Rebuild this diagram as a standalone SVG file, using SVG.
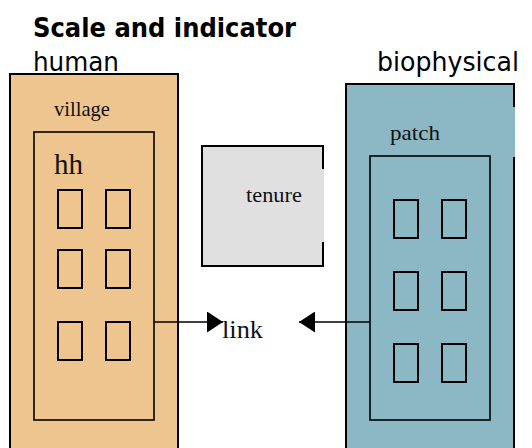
<svg xmlns="http://www.w3.org/2000/svg" width="532" height="448" viewBox="0 0 532 448">
<defs>
<style>
.t{font-family:"Liberation Serif","Times New Roman",serif;fill:#111}
.s{font-family:"DejaVu Sans","Noto Sans",sans-serif;fill:#000}
.box{stroke:#000;stroke-width:2}
.in{fill:none;stroke:#000;stroke-width:1.6}
.cell{fill:none;stroke:#000;stroke-width:2}
.ln{stroke:#000;stroke-width:1.6;fill:none}
</style>
<marker id="ah" viewBox="0 0 16 21" refX="16" refY="10.5" markerWidth="16" markerHeight="21" markerUnits="userSpaceOnUse" orient="auto">
<path d="M0,0 L16,10.5 L0,21 Z" fill="#000"/>
</marker>
</defs>
<rect width="532" height="448" fill="#fff"/>
<text class="s" x="33" y="37" font-size="26" font-weight="bold" textLength="263" lengthAdjust="spacingAndGlyphs">Scale and indicator</text>
<text class="s" x="33" y="71" font-size="27" textLength="86" lengthAdjust="spacingAndGlyphs">human</text>
<text class="s" x="377" y="71" font-size="27" textLength="142" lengthAdjust="spacingAndGlyphs">biophysical</text>
<g id="village">
<rect class="box" x="10" y="74" width="168" height="390" fill="#EFC58F"/>
<text class="t" x="54" y="116" font-size="21" textLength="56" lengthAdjust="spacingAndGlyphs">village</text>
</g>
<g id="hh">
<rect class="in" x="34" y="132" width="120" height="288"/>
<text class="t" x="54" y="174" font-size="29" textLength="29" lengthAdjust="spacingAndGlyphs">hh</text>
<rect class="cell" x="58" y="190" width="24" height="38"/>
<rect class="cell" x="106" y="190" width="24" height="38"/>
<rect class="cell" x="58" y="250" width="24" height="38"/>
<rect class="cell" x="106" y="250" width="24" height="38"/>
<rect class="cell" x="58" y="322" width="24" height="38"/>
<rect class="cell" x="106" y="322" width="24" height="38"/>
</g>
<g id="tenure">
<rect x="202" y="146" width="122" height="120" fill="#E0E0E0"/>
<path class="box" fill="none" d="M323,169 V146 H202 V266 H323 V242"/>
<text class="t" x="246" y="202" font-size="21" textLength="56" lengthAdjust="spacingAndGlyphs">tenure</text>
</g>
<g id="biophysical-patch">
<rect x="346" y="84" width="169" height="380" fill="#8BB8C4"/>
<path class="box" fill="none" d="M514,107 V84 H346 V464 M514,157 V464"/>
<text class="t" x="390" y="140" font-size="21" textLength="50" lengthAdjust="spacingAndGlyphs">patch</text>
</g>
<g id="patch">
<rect class="in" x="370" y="156" width="120" height="264"/>
<rect class="cell" x="394" y="200" width="24" height="38"/>
<rect class="cell" x="442" y="200" width="24" height="38"/>
<rect class="cell" x="394" y="272" width="24" height="38"/>
<rect class="cell" x="442" y="272" width="24" height="38"/>
<rect class="cell" x="394" y="344" width="24" height="38"/>
<rect class="cell" x="442" y="344" width="24" height="38"/>
</g>
<g id="link">
<text class="t" x="222" y="338" font-size="26" textLength="41" lengthAdjust="spacingAndGlyphs">link</text>
</g>
<g id="connectors">
<line class="ln" x1="154" y1="322" x2="223" y2="322" marker-end="url(#ah)"/>
<line class="ln" x1="370" y1="322" x2="299" y2="322" marker-end="url(#ah)"/>
</g>
</svg>
